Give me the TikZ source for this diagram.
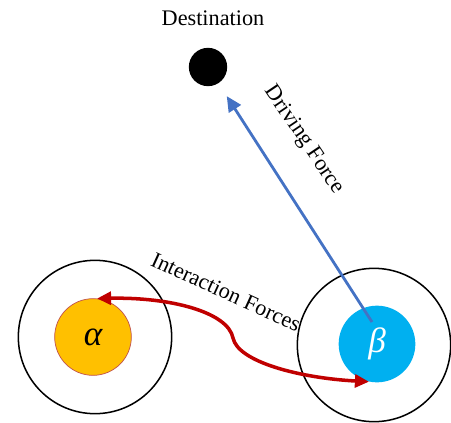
\documentclass[tikz,border=0pt]{standalone}
\usepackage{fontspec}
\setmainfont{Liberation Serif}
\definecolor{agentorange}{RGB}{255,192,0}
\definecolor{agentrim}{RGB}{192,80,77}
\definecolor{agentcyan}{RGB}{0,176,240}
\definecolor{forceblue}{RGB}{68,114,196}
\definecolor{forcered}{RGB}{192,0,0}
\usetikzlibrary{arrows.meta,positioning,calc}

\begin{document}
\begin{tikzpicture}[x=0.03cm, y=-0.03cm,
    zone/.style={circle, draw=black, line width=1.3pt, minimum size=4.6cm, inner sep=0pt},
    agent/.style={circle, minimum size=2.3cm, inner sep=0pt, font=\fontsize{30}{32}\selectfont\itshape},
    label/.style={font=\fontsize{19}{21}\selectfont}]
    \useasboundingbox (0,0) rectangle (451,422);

    % Comfort zones round the two agents
    \node[zone] (zonea) at (95,337) {};
    \node[zone] (zoneb) at (374,345) {};

    % Agents
    \node[agent, fill=agentorange, draw=agentrim, line width=0.6pt] (alpha) at (93,337) {α};
    \node[agent, fill=agentcyan, text=white] (beta) at (377,344) {β};

    % Destination
    \node[circle, fill=black, minimum size=1.15cm, inner sep=0pt] (dest) at (208,67) {};
    \node[label] (destlabel) at (213,18) {Destination};

    % Driving force
    \coordinate (dstart) at (372,322);
    \draw[forceblue, line width=2.4pt, shorten >=13pt,
          -{Triangle[length=13pt,width=12pt]}] (dstart) -- (dest);
    \node[label, rotate=-56] (drivelabel) at (304,140) {Driving Force};

    % Interaction forces
    \draw[forcered, line width=3pt,
          {Triangle[length=12pt,width=11pt]}-{Triangle[length=12pt,width=11pt]}]
      (alpha.84) .. controls (170,297) and (228,312) .. (233,338)
      .. controls (238,362) and (300,378) .. (beta.258);
    \node[label, rotate=-24.5] (interlabel) at (226,292) {Interaction Forces};
\end{tikzpicture}
\end{document}
